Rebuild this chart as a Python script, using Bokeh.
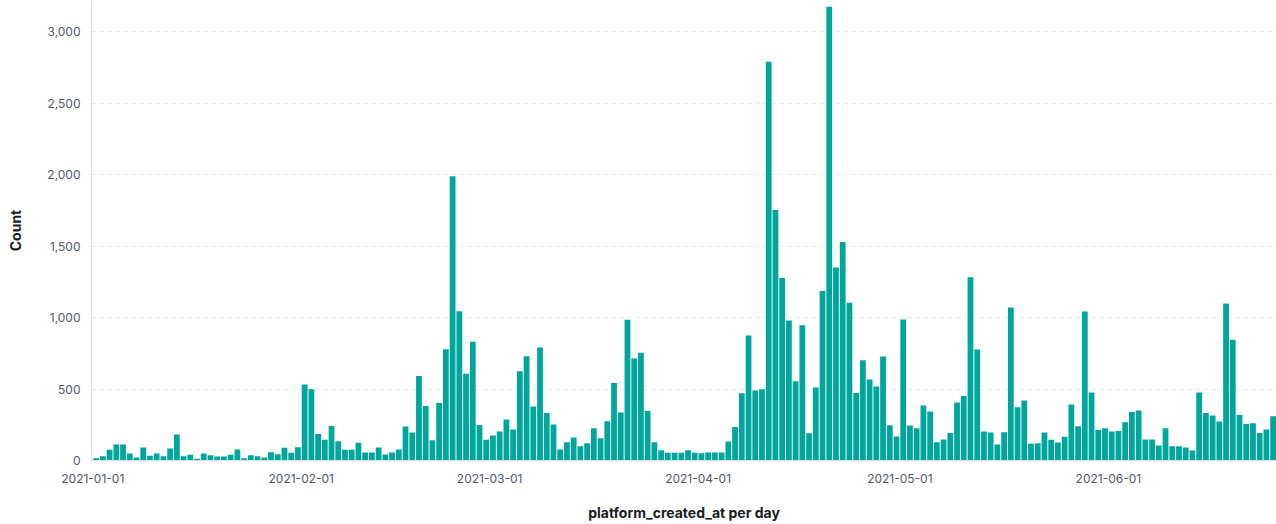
import pandas as pd
from bokeh.plotting import figure
from bokeh.models import (ColumnDataSource, FixedTicker, DatetimeTickFormatter,
                          NumeralTickFormatter, Range1d)
from bokeh.embed import file_html
from bokeh.resources import INLINE

# ---------------- data ----------------
start_date = "2021-01-01"

jan_counts = [15, 30, 75, 112, 112, 49, 21, 91, 33, 49, 30, 84, 182, 30, 40, 12, 49, 37,
              28, 28, 40, 77, 16, 37, 30, 21, 58, 44, 89, 55, 93]
feb_counts = [531, 499, 186, 145, 242, 135, 75, 75, 124, 56, 56, 91, 42, 56, 77, 238, 196,
              592, 382, 142, 403, 779, 1988, 1044, 606, 830, 249, 145]
mar_counts = [175, 203, 287, 217, 625, 730, 378, 790, 333, 252, 77, 128, 161, 100, 121, 226,
              156, 275, 543, 336, 984, 713, 753, 347, 128, 72, 54, 54, 54, 72, 54]
apr_counts = [51, 56, 56, 56, 133, 235, 471, 874, 490, 499, 2790, 1753, 1277, 979, 555, 946,
              191, 510, 1186, 3175, 1350, 1529, 1103, 473, 702, 566, 517, 727, 247, 168]
may_counts = [986, 245, 226, 385, 343, 128, 147, 193, 406, 452, 1282, 776, 203, 196, 112,
              198, 1070, 373, 420, 117, 121, 196, 145, 126, 166, 392, 240, 1042, 476, 214, 226]
jun_counts = [203, 207, 268, 340, 350, 147, 147, 105, 226, 100, 100, 91, 70, 476, 333, 315,
              273, 1098, 844, 319, 256, 261, 193, 217, 310]

counts = jan_counts + feb_counts + mar_counts + apr_counts + may_counts + jun_counts

x_tick_labels = ["2021-01-01", "2021-02-01", "2021-03-01", "2021-04-01", "2021-05-01", "2021-06-01"]
y_ticks = [0, 500, 1000, 1500, 2000, 2500, 3000]

x_title = "platform_created_at per day"
y_title = "Count"

# ---------------- build ----------------
DAY_MS = 86400000.0
days = pd.date_range(start_date, periods=len(counts), freq="D")
centers = [(d.timestamp() * 1000.0) + DAY_MS / 2 for d in days]
src = ColumnDataSource(dict(x=centers, count=counts))

x_start = pd.Timestamp(start_date).timestamp() * 1000.0 - 0.19 * DAY_MS
x_end = days[-1].timestamp() * 1000.0 + DAY_MS

p = figure(width=1276, height=524, x_axis_type="datetime",
           output_backend="svg", toolbar_location=None,
           x_range=Range1d(x_start, x_end), y_range=Range1d(0, 3218),
           min_border_left=91, min_border_right=0, min_border_top=0,
           min_border_bottom=64, background_fill_color="white",
           border_fill_color="white")

p.vbar(x="x", top="count", width=0.86 * DAY_MS, source=src,
       fill_color="#00A69B", line_color=None)

p.outline_line_color = None
p.xgrid.grid_line_color = None
p.ygrid.grid_line_color = "#e4e7ec"
p.ygrid.grid_line_dash = "4 4"
p.ygrid.grid_line_width = 1

p.xaxis.ticker = FixedTicker(ticks=[pd.Timestamp(t).timestamp() * 1000.0 for t in x_tick_labels])
fmt = "%Y-%m-%d"
p.xaxis.formatter = DatetimeTickFormatter(days=fmt, months=fmt, years=fmt, hours=fmt,
                                          hourmin=fmt, minutes=fmt, minsec=fmt,
                                          seconds=fmt, milliseconds=fmt, microseconds=fmt)
p.yaxis.ticker = FixedTicker(ticks=y_ticks)
p.yaxis.formatter = NumeralTickFormatter(format="0,0")

for ax in (p.xaxis, p.yaxis):
    ax.major_tick_in = 0
    ax.major_tick_out = 0
    ax.minor_tick_line_color = None
    ax.major_tick_line_color = None
    ax.axis_line_color = "#d9dde4"
    ax.major_label_text_font = "Inter"
    ax.major_label_text_font_size = "12px"
    ax.major_label_text_color = "#535966"
    ax.axis_label_text_font = "Inter"
    ax.axis_label_text_font_size = "14px"
    ax.axis_label_text_font_style = "bold"
    ax.axis_label_text_color = "#1a1c21"

p.xaxis.axis_label = x_title
p.yaxis.axis_label = y_title
p.xaxis.major_label_standoff = 13
p.xaxis.axis_label_standoff = 18
p.yaxis.major_label_standoff = 11
p.yaxis.axis_label_standoff = 20

open("out.html", "w").write(file_html(p, INLINE))
